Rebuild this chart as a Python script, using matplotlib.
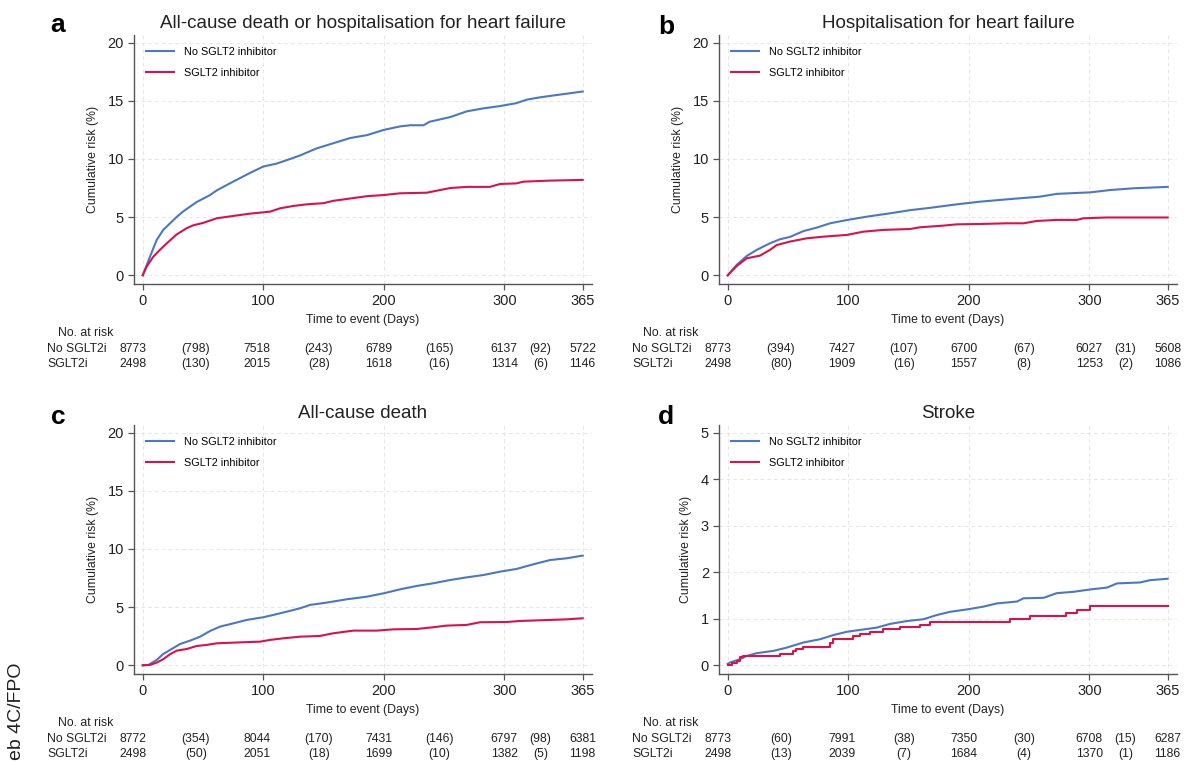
import matplotlib
matplotlib.use("Agg")
import matplotlib.pyplot as plt
import matplotlib.transforms as mtransforms

plt.rcParams["font.family"] = ["Liberation Sans", "DejaVu Sans"]

BLUE = "#4a78c2"
RED = "#d8124f"

# ---- curve data (days, cumulative risk %) ----
a_no_t = [0, 6, 11.6, 17, 28, 33.7, 44.8, 55.9, 61.4, 75, 89, 100, 111, 119.5, 130.5, 144, 158, 172, 186, 200,
          213.5, 222, 233, 238, 255, 269, 282.6, 296.5, 310, 318.6, 329.6, 343.5, 365]
a_no_y = [0, 1.6, 3.04, 3.9, 5.0, 5.5, 6.3, 6.9, 7.3, 8.05, 8.8, 9.35, 9.6, 9.9, 10.3, 10.9, 11.35, 11.8, 12.05, 12.5,
          12.8, 12.9, 12.9, 13.2, 13.6, 14.1, 14.35, 14.55, 14.8, 15.1, 15.3, 15.5, 15.8]
a_sg_t = [0, 3.3, 8.8, 14.4, 20, 28, 36.5, 42, 50, 61.4, 75, 89, 105.6, 114, 125, 136, 150, 158, 172, 186, 200,
          213.5, 235.6, 255, 269, 288, 296.5, 310, 315.8, 338, 365]
a_sg_y = [0, 0.75, 1.6, 2.2, 2.75, 3.5, 4.05, 4.3, 4.5, 4.9, 5.1, 5.3, 5.47, 5.76, 5.96, 6.1, 6.2, 6.4, 6.6, 6.8, 6.9,
          7.05, 7.1, 7.5, 7.6, 7.6, 7.85, 7.9, 8.05, 8.14, 8.2]

b_no_t = [0, 7.5, 15.8, 24, 35, 43.4, 51.7, 62.8, 73.9, 85, 98.8, 115.4, 134.8, 151.4, 168, 190, 209.5, 231.6,
          259, 273, 300.8, 317.4, 336.7, 365]
b_no_y = [0, 0.9, 1.66, 2.18, 2.75, 3.1, 3.3, 3.8, 4.1, 4.47, 4.75, 5.04, 5.33, 5.6, 5.8, 6.1, 6.33, 6.53,
          6.76, 7.0, 7.13, 7.33, 7.48, 7.6]
b_sg_t = [0, 7.5, 15.8, 26.8, 35, 40.7, 51.7, 65.6, 79.4, 98.8, 112.6, 129, 151.4, 159.7, 179, 190, 209.5, 231.6,
          245.4, 256.5, 273, 289.7, 295, 314.6, 365]
b_sg_y = [0, 0.8, 1.46, 1.69, 2.18, 2.6, 2.9, 3.18, 3.32, 3.47, 3.75, 3.9, 3.98, 4.13, 4.27, 4.38, 4.41, 4.47,
          4.47, 4.67, 4.76, 4.76, 4.9, 4.97, 4.97]

c_no_t = [0, 4.7, 11.6, 17, 22.7, 31, 39.3, 47.6, 55.9, 64, 75, 86.3, 100, 108.4, 119.5, 130.5, 138.8, 152.7, 169,
          186, 200, 213.5, 227.3, 241, 255, 268.8, 282.6, 296.5, 310, 324, 338, 351.8, 365]
c_no_y = [0, 0.03, 0.46, 0.97, 1.32, 1.83, 2.12, 2.46, 2.95, 3.32, 3.6, 3.9, 4.13, 4.33, 4.61, 4.9, 5.19, 5.39, 5.67,
          5.9, 6.19, 6.53, 6.82, 7.05, 7.33, 7.56, 7.76, 8.05, 8.28, 8.68, 9.05, 9.2, 9.43]
c_sg_t = [0, 6, 11.6, 17, 22.7, 28.2, 36.5, 44.8, 53, 61.4, 83.5, 97.3, 105.6, 116.7, 130.5, 147, 158, 174.8, 194,
          208, 227.3, 241, 252, 268.8, 279.9, 302, 313, 338, 351.8, 365]
c_sg_y = [0, 0.03, 0.23, 0.52, 0.95, 1.26, 1.4, 1.66, 1.75, 1.89, 1.98, 2.03, 2.18, 2.32, 2.46, 2.52, 2.75, 2.98, 2.98,
          3.09, 3.12, 3.27, 3.41, 3.47, 3.7, 3.72, 3.81, 3.9, 3.95, 4.04]

d_no_t = [0, 1.9, 10, 15.8, 24, 38, 49, 62.8, 76.6, 87.7, 98.8, 112.6, 123.7, 134.8, 148.6, 162.4, 173.5, 184.6,
          198.4, 212, 223.3, 240, 245.4, 262, 273, 287, 300.8, 314.6, 323, 342, 350.6, 365]
d_no_y = [0.03, 0.06, 0.13, 0.2, 0.26, 0.31, 0.38, 0.49, 0.56, 0.65, 0.72, 0.77, 0.81, 0.89, 0.95, 0.99, 1.08, 1.15,
          1.2, 1.26, 1.33, 1.37, 1.44, 1.45, 1.55, 1.58, 1.63, 1.67, 1.76, 1.78, 1.83, 1.86]
d_sg_t = [0, 3.3, 7.5, 10, 13, 43.4, 54.5, 57, 62.8, 85, 87.7, 104.3, 110, 118, 129, 143, 159.7, 168, 234, 251,
          281, 290, 300.8, 365]
d_sg_y = [0, 0.05, 0.1, 0.17, 0.21, 0.25, 0.31, 0.36, 0.4, 0.47, 0.56, 0.63, 0.67, 0.72, 0.77, 0.82, 0.87, 0.93,
          0.99, 1.06, 1.13, 1.19, 1.27, 1.27]

# ---- number at risk tables: at risk with censored in brackets ----
a_risk_no = ["8773", "(798)", "7518", "(243)", "6789", "(165)", "6137", "(92)", "5722"]
a_risk_sg = ["2498", "(130)", "2015", "(28)", "1618", "(16)", "1314", "(6)", "1146"]
b_risk_no = ["8773", "(394)", "7427", "(107)", "6700", "(67)", "6027", "(31)", "5608"]
b_risk_sg = ["2498", "(80)", "1909", "(16)", "1557", "(8)", "1253", "(2)", "1086"]
c_risk_no = ["8772", "(354)", "8044", "(170)", "7431", "(146)", "6797", "(98)", "6381"]
c_risk_sg = ["2498", "(50)", "2051", "(18)", "1699", "(10)", "1382", "(5)", "1198"]
d_risk_no = ["8773", "(60)", "7991", "(38)", "7350", "(30)", "6708", "(15)", "6287"]
d_risk_sg = ["2498", "(13)", "2039", "(7)", "1684", "(4)", "1370", "(1)", "1186"]

# column positions of the table (in day units of the x axis)
risk_cols = [-8, 44, 95, 146, 196, 246, 300, 330, 365]

panels = [
    ("a", "All-cause death or hospitalisation for heart failure", a_no_t, a_no_y, a_sg_t, a_sg_y,
     a_risk_no, a_risk_sg, 20),
    ("b", "Hospitalisation for heart failure", b_no_t, b_no_y, b_sg_t, b_sg_y, b_risk_no, b_risk_sg, 20),
    ("c", "All-cause death", c_no_t, c_no_y, c_sg_t, c_sg_y, c_risk_no, c_risk_sg, 20),
    ("d", "Stroke", d_no_t, d_no_y, d_sg_t, d_sg_y, d_risk_no, d_risk_sg, 5),
]

W, H = 1184, 762
fig = plt.figure(figsize=(W / 100, H / 100), dpi=100)

rects = [(134.3, 35), (719.3, 35), (134.3, 425), (719.3, 425)]
letter_pos = [(58, 25), (666, 27), (58, 417), (666, 417)]
ax_w, ax_h = 457.4, 249
TXT = "#222222"

for (letter, title, nt, ny, st, sy, rno, rsg, ymax), (lx, ty), (px, py) in zip(panels, rects, letter_pos):
    ax = fig.add_axes([lx / W, 1 - (ty + ax_h) / H, ax_w / W, ax_h / H])
    ax.plot(nt, ny, color=BLUE, lw=1.5, label="No SGLT2 inhibitor")
    if letter == "d":
        ax.step(st, sy, where="post", color=RED, lw=1.5, label="SGLT2 inhibitor")
    else:
        ax.plot(st, sy, color=RED, lw=1.5, label="SGLT2 inhibitor")

    ax.set_xlim(-7, 372.5)
    ax.set_ylim(-0.0375 * ymax, 1.033 * ymax)
    ax.set_xticks([0, 100, 200, 300, 365])
    ax.set_yticks([ymax * i / 4 for i in range(5)] if ymax == 20 else list(range(6)))
    ax.set_yticklabels([f"{v:g}" for v in ax.get_yticks()])
    ax.grid(True, color="#e6e6e6", ls=(0, (4, 3)), lw=0.7)
    for s in ["top", "right"]:
        ax.spines[s].set_visible(False)
    for s in ["left", "bottom"]:
        ax.spines[s].set_color("#555555")
        ax.spines[s].set_linewidth(1.0)
    ax.tick_params(direction="out", length=4, width=0.9, colors="#555555", labelcolor=TXT,
                   labelsize=10.5)
    ax.set_ylabel("Cumulative risk (%)", fontsize=8.8, color=TXT, labelpad=6)
    ax.set_xlabel("Time to event (Days)", fontsize=8.8, color=TXT, labelpad=4)
    ax.set_title(title, fontsize=13.5, color=TXT, pad=5)
    ax.legend(loc="upper left", frameon=False, fontsize=7.8, handlelength=2.6, handletextpad=0.9,
              labelspacing=1.0, borderaxespad=0.7)

    # number at risk table
    tr = mtransforms.blended_transform_factory(ax.transData, ax.transAxes)
    ax.text(-0.167, -0.197, "No. at risk", transform=ax.transAxes, fontsize=8.8, ha="left", va="center",
            color=TXT)
    ax.text(-0.191, -0.261, "No SGLT2i", transform=ax.transAxes, fontsize=8.8, ha="left", va="center",
            color=TXT)
    ax.text(-0.191, -0.321, "SGLT2i", transform=ax.transAxes, fontsize=8.8, ha="left", va="center",
            color=TXT)
    for x, v1, v2 in zip(risk_cols, rno, rsg):
        ax.text(x, -0.261, v1, transform=tr, fontsize=8.8, ha="center", va="center", color=TXT)
        ax.text(x, -0.321, v2, transform=tr, fontsize=8.8, ha="center", va="center", color=TXT)

    fig.text(px / W, 1 - py / H, letter, fontsize=19, fontweight="bold", ha="center", va="center")

# leftover page marker at the left edge (only this part is visible in the source)
fig.text(17 / W, 0.002, "eb 4C/FPO", rotation=90, fontsize=14, ha="center", va="bottom", color=TXT)

fig.savefig("out.png", dpi=100)
